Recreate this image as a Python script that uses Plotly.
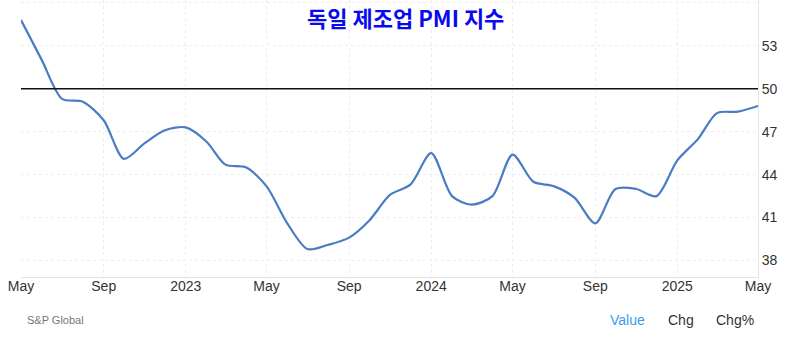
import plotly.graph_objects as go
import pandas as pd

months = pd.date_range("2022-05-01", "2025-05-01", freq="MS")
pmi = [54.8, 52.0, 49.3, 49.1, 47.8, 45.1, 46.2, 47.1,
       47.3, 46.3, 44.7, 44.5, 43.2, 40.6, 38.8, 39.1, 39.6, 40.8, 42.6, 43.3,
       45.5, 42.5, 41.9, 42.5, 45.4, 43.5, 43.2, 42.4, 40.6, 43.0, 43.0, 42.5,
       45.0, 46.5, 48.3, 48.4, 48.8]

x_tick_dates = pd.date_range("2022-05-01", "2025-05-01", freq="4MS")
x_tick_text = ["May", "Sep", "2023", "May", "Sep", "2024", "May", "Sep", "2025", "May"]
y_tick_vals = [38, 41, 44, 47, 50, 53, 56]
y_tick_text = ["38", "41", "44", "47", "50", "53", ""]
reference_level = 50
title_text = "독일 제조업 PMI 지수"

fig = go.Figure()
fig.add_trace(go.Scatter(
    x=months, y=pmi, mode="lines",
    line=dict(color="#4a7cc4", width=2.2, shape="spline", smoothing=0.8),
    hoverinfo="skip", showlegend=False,
))
fig.add_shape(type="line", xref="paper", yref="y", x0=0, x1=1,
              y0=reference_level, y1=reference_level,
              line=dict(color="#111111", width=1.3))

fig.update_layout(
    width=791, height=351,
    margin=dict(l=21, r=33, t=0, b=74),
    paper_bgcolor="white", plot_bgcolor="white",
    font=dict(family="Liberation Sans, Arial, sans-serif", color="#333333", size=14),
    xaxis=dict(
        range=[months[0], months[-1]],
        tickvals=x_tick_dates, ticktext=x_tick_text,
        showgrid=True, gridcolor="#eeeeee", griddash="dot", gridwidth=1,
        showline=True, linecolor="#e3e3e3", linewidth=1, mirror=False,
        ticks="", ticklen=0, ticklabelstandoff=-4, zeroline=False,
        tickfont=dict(size=14, color="#333333"),
    ),
    yaxis=dict(
        side="right", range=[36.85, 56.2],
        tickvals=y_tick_vals, ticktext=y_tick_text,
        showgrid=True, gridcolor="#eeeeee", griddash="dot", gridwidth=1,
        showline=True, linecolor="#e3e3e3", linewidth=1,
        ticks="", ticklen=0, zeroline=False, tickfont=dict(size=14, color="#333333"),
    ),
    annotations=[
        dict(text="<b>" + title_text + "</b>", xref="paper", yref="paper",
             x=(406 - 21) / 737, y=1, xanchor="center", yanchor="top",
             showarrow=False, borderpad=0,
             font=dict(family="Noto Sans CJK KR, sans-serif", size=22, color="#0a0aee")),
        dict(text="S&P Global", xref="paper", yref="paper",
             x=(25 - 21) / 737, y=(277 - 320) / 277, xanchor="left", yanchor="middle",
             showarrow=False, font=dict(size=11, color="#777777")),
        dict(text="Value", xref="paper", yref="paper",
             x=(608 - 21) / 737, y=(277 - 320) / 277, xanchor="left", yanchor="middle",
             showarrow=False, font=dict(size=14, color="#3e9cf0")),
        dict(text="Chg", xref="paper", yref="paper",
             x=(666 - 21) / 737, y=(277 - 320) / 277, xanchor="left", yanchor="middle",
             showarrow=False, font=dict(size=14, color="#333333")),
        dict(text="Chg%", xref="paper", yref="paper",
             x=(714 - 21) / 737, y=(277 - 320) / 277, xanchor="left", yanchor="middle",
             showarrow=False, font=dict(size=14, color="#333333")),
    ],
)

fig.write_html("out.html")
